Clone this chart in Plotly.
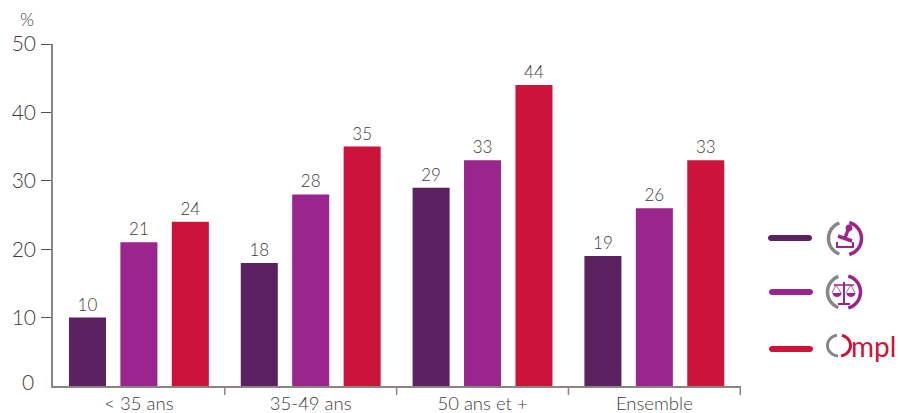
import math
import plotly.graph_objects as go

categories = ["< 35 ans", "35-49 ans", "50 ans et +", "Ensemble"]
series_a = [10, 18, 29, 19]
series_b = [21, 28, 33, 26]
series_c = [24, 35, 44, 33]
y_ticks = [10, 20, 30, 40, 50]
colors = ["#5b2160", "#9a258c", "#cc1339"]
GRAY = "#8a8482"
TEXT = "#3f3b3b"
FONT = "Lato Light, Lato"

L, R, T, B = 53, 741, 44, 386
def px(x): return (x - L) / (R - L)
def py(y): return (B - y) / (B - T)

def path(points, close=False):
    s = "M " + " L ".join(f"{px(x):.5f} {py(y):.5f}" for x, y in points)
    return s + (" Z" if close else "")

def arc(cx, cy, rx, ry, a0, a1, n=32):
    return [(cx + rx * math.cos(math.radians(a0 + (a1 - a0) * i / n)),
             cy - ry * math.sin(math.radians(a0 + (a1 - a0) * i / n))) for i in range(n + 1)]

def stroke(points, color, width):
    return dict(type="path", xref="paper", yref="paper", path=path(points),
                line=dict(color=color, width=width), fillcolor="rgba(0,0,0,0)", layer="above")

def fill(points, color):
    return dict(type="path", xref="paper", yref="paper", path=path(points, True),
                line=dict(width=0), fillcolor=color, layer="above")

def pill(x0, x1, y, h, color):
    r = h / 2
    return fill(arc(x1 - r, y, r, r, 90, -90, 10) + arc(x0 + r, y, r, r, 270, 90, 10), color)

P = colors[1]
shapes = [
    pill(768, 812, 238, 6, colors[0]),
    pill(769, 813, 292, 6, colors[1]),
    pill(769, 813, 349, 6, colors[2]),
    # icon 1: stamp
    stroke(arc(845, 238.5, 16.5, 16.5, 110, 250), GRAY, 3.5),
    stroke(arc(845, 238.5, 16.5, 16.5, 75, -75), P, 3.5),
    stroke([(837, 242), (837, 247), (853, 247), (853, 242)], P, 2),
    stroke([(838, 236), (852, 241)], P, 3.5),
    stroke([(845, 238), (848, 230)], P, 3.5),
    fill(arc(849, 228, 3.5, 3.5, 0, 360, 16), P),
    # icon 2: scales
    stroke(arc(844, 292, 16.5, 16.5, 110, 250), GRAY, 3.5),
    stroke(arc(844, 292, 16.5, 16.5, 75, -75), P, 3.5),
    stroke([(844, 282), (844, 303)], P, 2),
    stroke([(838, 304), (850, 304)], P, 2),
    stroke([(834, 285), (854, 285)], P, 1.5),
    fill(arc(837, 293, 4.5, 4, 0, -180, 12), P),
    fill(arc(851, 293, 4.5, 4, 0, -180, 12), P),
    stroke([(832, 293), (836, 285), (841, 293)], P, 0.8),
    stroke([(846, 293), (851, 285), (855, 293)], P, 0.8),
    # Ompl logo: O
    stroke(arc(839, 345.5, 11.5, 10.5, 100, 265), GRAY, 3),
    stroke(arc(839, 345.5, 11.5, 10.5, 75, -80), colors[2], 3),
]
for boundary in [0.5, 1.5, 2.5, 3.5]:
    shapes.append(dict(type="line", xref="x", yref="paper", x0=boundary, x1=boundary,
                       y0=py(386), y1=py(395), line=dict(color=GRAY, width=1.5)))

fig = go.Figure()
for vals, col in zip([series_a, series_b, series_c], colors):
    fig.add_bar(x=categories, y=vals, marker=dict(color=col, line=dict(width=0)),
                text=vals, textposition="outside", cliponaxis=False,
                textfont=dict(family=FONT, size=17, color=TEXT), showlegend=False)

fig.update_layout(
    width=900, height=413, autosize=False,
    margin=dict(l=L, r=900 - R, t=T, b=413 - B, pad=0, autoexpand=False),
    paper_bgcolor="white", plot_bgcolor="white",
    barmode="group", bargap=0.102, bargroupgap=0.28,
    font=dict(family=FONT, color=TEXT),
    shapes=shapes,
    annotations=[
        dict(text="%", xref="paper", yref="paper", x=px(27), y=py(19), xanchor="center", yanchor="middle",
             showarrow=False, font=dict(family=FONT, size=18, color=TEXT)),
        dict(text="0", xref="paper", yref="paper", x=px(36), y=py(381), xanchor="right", yanchor="middle",
             showarrow=False, font=dict(family=FONT, size=21, color=TEXT)),
        dict(text="mpl", xref="paper", yref="paper", x=px(849), y=py(346), xanchor="left", yanchor="middle",
             showarrow=False, font=dict(family="Lato", size=28, color=colors[2])),
    ],
)
fig.update_xaxes(type="category", tickson="boundaries", ticks="outside", ticklen=8, tickwidth=1,
                 tickcolor="rgba(0,0,0,0)", showline=True, linecolor=GRAY, linewidth=2, showgrid=False,
                 tickfont=dict(family=FONT, size=18.5, color=TEXT), automargin=False)
fig.update_yaxes(range=[0, 50], tickvals=y_ticks, ticks="outside", ticklen=10,
                 tickwidth=1, tickcolor="#5a5050", showline=True, linecolor=GRAY, linewidth=1.5,
                 showgrid=False, zeroline=False, automargin=False, ticklabelstandoff=1,
                 tickfont=dict(family=FONT, size=21, color=TEXT))
fig.write_html("out.html", config={"displayModeBar": False},
               post_script="document.body.style.margin='0';document.documentElement.style.overflow='hidden';")
